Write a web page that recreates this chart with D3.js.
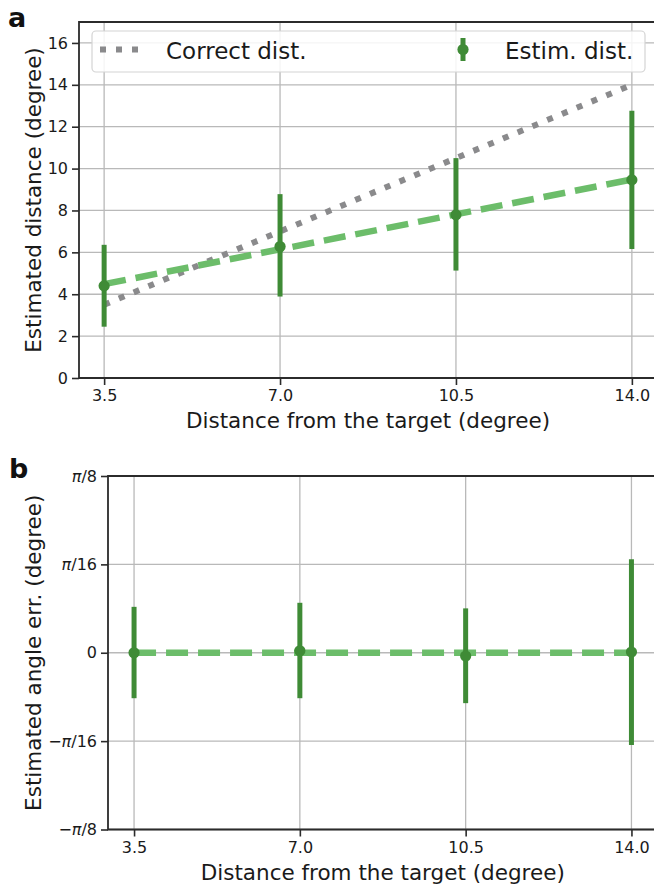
<!DOCTYPE html>
<html>
<head>
<meta charset="utf-8">
<script src="https://cdn.jsdelivr.net/npm/d3@7"></script>
<style>
  html, body { margin: 0; padding: 0; background: #fff; }
  svg { display: block; font-family: "DejaVu Sans", sans-serif; }
</style>
</head>
<body>
<svg id="chart" width="654" height="886"></svg>
<script>
// Target distances (degree) shared by both panels
const distances = [3.5, 7.0, 10.5, 14.0];
const xTickLabels = ["3.5", "7.0", "10.5", "14.0"];

// Panel a: estimated distance (mean, lower, upper)
const estDistMean = [4.4, 6.28, 7.79, 9.46];
const estDistLow  = [2.45, 3.89, 5.13, 6.16];
const estDistHigh = [6.36, 8.78, 10.5, 12.76];
// Linear trend through the estimates, end points
const distTrendX = [3.5, 14.0];
const distTrendY = [4.48, 9.48];
// Ideal line: estimate equals true distance
const correctX = [3.5, 14.0];
const correctY = [3.5, 14.0];
const distYTicks = [0, 2, 4, 6, 8, 10, 12, 14, 16];

// Panel b: estimated angle error (radians)
const angleMean = [0.0, 0.0044, -0.0073, 0.0015];
const angleLow  = [-0.101, -0.101, -0.112, -0.205];
const angleHigh = [0.102, 0.111, 0.0986, 0.208];
const angleTrendX = [3.5, 14.0];
const angleTrendY = [0.0, 0.0];
const angleYTicks = [-Math.PI / 8, -Math.PI / 16, 0, Math.PI / 16, Math.PI / 8];
const angleYLabels = [["−", "π", "/8"], ["−", "π", "/16"], ["", "", "0"], ["", "π", "/16"], ["", "π", "/8"]];

const C = {
  grid: "#b9b9b9",
  spine: "#2b2b2b",
  err: "#3f8b36",
  trend: "#6cbd6a",
  correct: "#8a8a8c",
  text: "#1a1a1a"
};

const svg = d3.select("#chart");

function drawPanel(cfg) {
  const g = svg.append("g");
  const x = cfg.x, y = cfg.y;
  const [x0, x1] = x.range();
  const [y0, y1] = y.range(); // y0 bottom, y1 top

  // grid
  g.append("g").selectAll("line").data(distances).join("line")
    .attr("x1", d => x(d)).attr("x2", d => x(d))
    .attr("y1", y0).attr("y2", y1)
    .attr("stroke", C.grid).attr("stroke-width", 1.3);
  g.append("g").selectAll("line").data(cfg.yTicks).join("line")
    .attr("x1", x0).attr("x2", x1)
    .attr("y1", d => y(d)).attr("y2", d => y(d))
    .attr("stroke", C.grid).attr("stroke-width", 1.3);

  // axes
  const xAxis = d3.axisBottom(x).tickValues(distances)
    .tickFormat((d, i) => xTickLabels[i]).tickSize(7).tickPadding(5);
  const gx = g.append("g").attr("transform", `translate(0,${y0})`).call(xAxis);
  gx.select(".domain").remove();
  gx.selectAll(".tick line").attr("stroke", C.spine).attr("stroke-width", 1.6);
  gx.selectAll(".tick text").attr("font-size", 16).attr("fill", C.text)
    .attr("font-family", "DejaVu Sans");

  const yAxis = d3.axisLeft(y).tickValues(cfg.yTicks).tickSize(7).tickPadding(4)
    .tickFormat(() => "");
  const gy = g.append("g").attr("transform", `translate(${x0},0)`).call(yAxis);
  gy.select(".domain").remove();
  gy.selectAll(".tick line").attr("stroke", C.spine).attr("stroke-width", 1.6);
  cfg.yLabel(gy.selectAll(".tick text"));

  // spines: left, top, bottom (right edge falls outside the canvas)
  g.append("path")
    .attr("d", `M${x1},${y1}H${x0}V${y0}H${x1}`)
    .attr("fill", "none").attr("stroke", C.spine).attr("stroke-width", 1.8);

  // axis titles
  g.append("text").attr("x", (x(3.5) + x(14)) / 2 + cfg.xLabelShift).attr("y", cfg.xLabelY)
    .attr("text-anchor", "middle").attr("font-size", 21.5).attr("fill", C.text)
    .text("Distance from the target (degree)");
  g.append("text")
    .attr("transform", `translate(${cfg.yLabelX},${(y0 + y1) / 2}) rotate(-90)`)
    .attr("text-anchor", "middle").attr("font-size", 21.5).attr("fill", C.text)
    .text(cfg.yTitle);

  // panel letter
  g.append("text").attr("x", cfg.letterX).attr("y", cfg.letterY)
    .attr("font-size", 27).attr("font-weight", "bold").attr("fill", "#111")
    .text(cfg.letter);

  return g;
}

function drawSeries(g, x, y, trendX, trendY, mean, low, high) {
  const line = d3.line().x(d => x(d[0])).y(d => y(d[1]));
  g.append("path").datum(d3.zip(trendX, trendY)).attr("d", line)
    .attr("fill", "none").attr("stroke", C.trend).attr("stroke-width", 6.5)
    .attr("stroke-dasharray", "22,10");
  const pts = distances.map((d, i) => ({ x: d, m: mean[i], lo: low[i], hi: high[i] }));
  g.append("g").selectAll("line").data(pts).join("line")
    .attr("x1", d => x(d.x)).attr("x2", d => x(d.x))
    .attr("y1", d => y(d.lo)).attr("y2", d => y(d.hi))
    .attr("stroke", C.err).attr("stroke-width", 5);
  g.append("g").selectAll("circle").data(pts).join("circle")
    .attr("cx", d => x(d.x)).attr("cy", d => y(d.m)).attr("r", 5.6)
    .attr("fill", C.err);
}

// ---------- Panel a ----------
const xA = d3.scaleLinear().domain([3.0, 14.5]).range([79, 657]);
const yA = d3.scaleLinear().domain([0, 17]).range([378, 22]);
const gA = drawPanel({
  x: xA, y: yA, yTicks: distYTicks,
  yLabel: sel => sel.text(d => d).attr("font-size", 16).attr("fill", C.text)
    .attr("font-family", "DejaVu Sans"),
  yTitle: "Estimated distance (degree)",
  yLabelX: 41, xLabelY: 428, xLabelShift: 0,
  letter: "a", letterX: 8, letterY: 27
});
// ideal line
gA.append("path").datum(d3.zip(correctX, correctY))
  .attr("d", d3.line().x(d => xA(d[0])).y(d => yA(d[1])))
  .attr("fill", "none").attr("stroke", C.correct).attr("stroke-width", 6)
  .attr("stroke-dasharray", "6,10");
drawSeries(gA, xA, yA, distTrendX, distTrendY, estDistMean, estDistLow, estDistHigh);

// legend
const lg = gA.append("g");
lg.append("rect").attr("x", 92).attr("y", 31).attr("width", 553).attr("height", 41)
  .attr("rx", 4).attr("fill", "rgba(255,255,255,0.85)")
  .attr("stroke", "#d4d4d4").attr("stroke-width", 1.2);
lg.append("line").attr("x1", 100).attr("x2", 140).attr("y1", 49.5).attr("y2", 49.5)
  .attr("stroke", C.correct).attr("stroke-width", 6).attr("stroke-dasharray", "6,10");
lg.append("text").attr("x", 166).attr("y", 59).attr("font-size", 23).attr("fill", C.text)
  .text("Correct dist.");
lg.append("line").attr("x1", 463).attr("x2", 463).attr("y1", 38).attr("y2", 61)
  .attr("stroke", C.err).attr("stroke-width", 5);
lg.append("circle").attr("cx", 463).attr("cy", 49.5).attr("r", 5.6).attr("fill", C.err);
lg.append("text").attr("x", 505).attr("y", 59).attr("font-size", 23).attr("fill", C.text)
  .text("Estim. dist.");

// ---------- Panel b ----------
const xB = d3.scaleLinear().domain([2.95, 14.55]).range([108, 657.5]);
const yB = d3.scaleLinear().domain([-Math.PI / 8, Math.PI / 8]).range([829.5, 476]);
const gB = drawPanel({
  x: xB, y: yB, yTicks: angleYTicks,
  yLabel: sel => {
    sel.text(null).attr("font-size", 16).attr("fill", C.text).attr("font-family", "DejaVu Sans");
    sel.each(function (d, i) {
      const t = d3.select(this);
      const parts = angleYLabels[i];
      if (parts[0]) t.append("tspan").text(parts[0]);
      if (parts[1]) t.append("tspan").attr("font-style", "italic").text(parts[1]);
      t.append("tspan").text(parts[2]);
    });
  },
  yTitle: "Estimated angle err. (degree)",
  yLabelX: 41, xLabelY: 880, xLabelShift: 0,
  letter: "b", letterX: 9, letterY: 478
});
drawSeries(gB, xB, yB, angleTrendX, angleTrendY, angleMean, angleLow, angleHigh);
</script>
</body>
</html>
